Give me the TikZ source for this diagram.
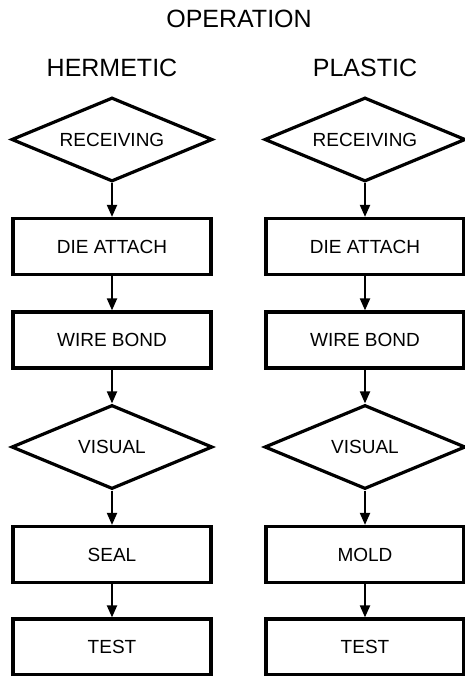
\documentclass[tikz,border=0pt]{standalone}
\usepackage{fontspec}
\setmainfont{Liberation Sans}
\usetikzlibrary{shapes.geometric, arrows.meta}

\begin{document}
\begin{tikzpicture}[x=1pt, y=-1pt,
        every node/.style={font=\fontsize{19}{23}\selectfont},
        head/.style={font=\fontsize{25}{29}\selectfont},
        stepbox/.style={draw, line width=3.2pt, rectangle, minimum width=198pt, minimum height=56pt, inner sep=0pt},
        check/.style={draw, line width=3.2pt, diamond, aspect=2.4, minimum width=201pt, minimum height=84pt, inner sep=0pt},
        flow/.style={line width=2pt, -{Triangle[length=12pt, width=10pt]}}]
    \useasboundingbox (0,0) rectangle (464,676);
    \node[head] (title) at (239,19) {OPERATION};
    % one column per package type: name, centre, heading, sealing step
    \foreach \pk/\cx/\label/\close in {herm/112/HERMETIC/SEAL, plas/365/PLASTIC/MOLD} {
        \node[head] (\pk-head) at (\cx,68) {\label};
        \node[check]   (\pk-recv) at (\cx,139.5) {RECEIVING};
        \node[stepbox] (\pk-die)  at (\cx,246.5) {DIE ATTACH};
        \node[stepbox] (\pk-wire) at (\cx,340)   {WIRE BOND};
        \node[check]   (\pk-vis)  at (\cx,447)   {VISUAL};
        \node[stepbox] (\pk-seal) at (\cx,554.5) {\close};
        \node[stepbox] (\pk-test) at (\cx,647)   {TEST};
        \draw[flow] (\pk-recv.south) -- (\pk-die.north);
        \draw[flow] (\pk-die.south)  -- (\pk-wire.north);
        \draw[flow] (\pk-wire.south) -- (\pk-vis.north);
        \draw[flow] (\pk-vis.south)  -- (\pk-seal.north);
        \draw[flow] (\pk-seal.south) -- (\pk-test.north);
    }
\end{tikzpicture}
\end{document}
